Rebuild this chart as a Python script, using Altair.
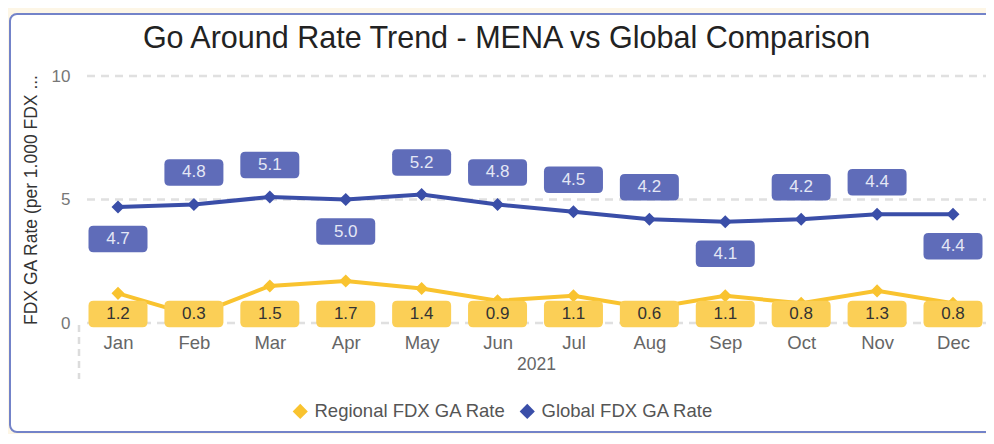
import altair as alt
import pandas as pd

months = ["Jan", "Feb", "Mar", "Apr", "May", "Jun", "Jul", "Aug", "Sep", "Oct", "Nov", "Dec"]
global_rate = [4.7, 4.8, 5.1, 5.0, 5.2, 4.8, 4.5, 4.2, 4.1, 4.2, 4.4, 4.4]
regional_rate = [1.2, 0.3, 1.5, 1.7, 1.4, 0.9, 1.1, 0.6, 1.1, 0.8, 1.3, 0.8]
global_labels_below = ["Jan", "Apr", "Sep", "Dec"]
y_ticks = [0, 5, 10]
title_text = "Go Around Rate Trend - MENA vs Global Comparison"

REG = "Regional FDX GA Rate"
GLO = "Global FDX GA Rate"

rows = []
for m, g, r in zip(months, global_rate, regional_rate):
    rows.append({"month": m, "series": REG, "value": r, "below": True})
    rows.append({"month": m, "series": GLO, "value": g, "below": m in global_labels_below})
df = pd.DataFrame(rows)

FONT = "Liberation Sans"
W, H = 905, 247

c_glo_line = "#3a4ea8"
c_reg_line = "#f9c32f"
c_glo_box = "#5f6cb9"
c_reg_box = "#fbcf56"

box_path = ("M-0.83,-0.449 L0.83,-0.449 Q1,-0.449 1,-0.279 L1,0.279 Q1,0.449 0.83,0.449 "
            "L-0.83,0.449 Q-1,0.449 -1,0.279 L-1,-0.279 Q-1,-0.449 -0.83,-0.449 Z")

x_enc = alt.X(
    "month:N", sort=months,
    scale=alt.Scale(type="point", range=[37, 872], padding=0),
    axis=alt.Axis(title="2021", labelAngle=0, ticks=False, tickSize=0, domain=False, grid=False,
                  labelFontSize=18.5, labelColor="#666666", labelPadding=10,
                  titleFontSize=17.5, titleColor="#666666", titleFontWeight="normal",
                  titlePadding=4, titleX=455, zindex=1),
)
y_scale = alt.Scale(domain=[0, 10], nice=False)
y_enc = alt.Y(
    "value:Q", scale=y_scale,
    axis=alt.Axis(title="FDX GA Rate (per 1.000 FDX ...", values=y_ticks, ticks=False, tickSize=0,
                  domain=False, grid=False, labelFontSize=17, labelColor="#777777", labelPadding=11,
                  titleFontSize=17.5, titleColor="#333333", titleFontWeight="normal",
                  titlePadding=11, zindex=1),
)
color_enc = alt.Color(
    "series:N",
    scale=alt.Scale(domain=[REG, GLO], range=[c_reg_line, c_glo_line]),
    legend=alt.Legend(title=None, orient="none", legendX=210, legendY=326, direction="horizontal",
                      symbolType="diamond", symbolSize=230, symbolStrokeWidth=0,
                      labelFontSize=18.5, labelColor="#555555", labelOffset=5, labelLimit=400,
                      columnPadding=12, zindex=1),
)

one = pd.DataFrame({"k": [0]})

frame = alt.Chart(one).mark_rect(
    fill="white", stroke="#7383c9", strokeWidth=2, cornerRadius=7
).encode(x=alt.value(-71), x2=alt.value(W + 200), y=alt.value(-62), y2=alt.value(356))

title = alt.Chart(pd.DataFrame({"t": [title_text]})).mark_text(
    fontSize=30.5, color="#222222", baseline="alphabetic", align="center"
).encode(text="t:N", x=alt.value(425.5), y=alt.value(-28))

grid = alt.Chart(pd.DataFrame({"tick": y_ticks})).mark_rule(
    color="#e0e0e0", strokeWidth=2.5, strokeDash=[8, 6]
).encode(y=alt.Y("tick:Q", scale=y_scale), x=alt.value(6), x2=alt.value(W + 10))

sep = alt.Chart(one).mark_rule(
    color="#dcdcdc", strokeWidth=2.5, strokeDash=[7, 5]
).encode(x=alt.value(-2), y=alt.value(H + 2), y2=alt.value(H + 56))

base = alt.Chart(df)

lines = base.mark_line(strokeWidth=4).encode(x=x_enc, y=y_enc, color=color_enc)
points = base.mark_point(shape="diamond", filled=True, size=170, opacity=1).encode(
    x=x_enc, y=y_enc, color=color_enc)

glo = base.transform_filter(alt.datum.series == GLO)
glo_above = glo.transform_filter(alt.datum.below == False)
glo_below = glo.transform_filter(alt.datum.below == True)
reg = base.transform_filter(alt.datum.series == REG)

def box(src, off):
    return src.mark_point(shape=box_path, filled=True, size=3481, opacity=1, color=c_glo_box,
                          strokeWidth=0, yOffset=off).encode(x=x_enc, y=y_enc)

def txt(src, off):
    return src.mark_text(fontSize=17, color="#e4e7f5", baseline="middle", yOffset=off).encode(
        x=x_enc, y=y_enc, text=alt.Text("value:Q", format=".1f"))

reg_box = reg.mark_point(shape=box_path, filled=True, size=3481, opacity=1, color=c_reg_box,
                         strokeWidth=0).encode(x=x_enc, y=alt.value(H - 9))
reg_txt = reg.mark_text(fontSize=17, color="#333333", baseline="middle").encode(
    x=x_enc, y=alt.value(H - 9), text=alt.Text("value:Q", format=".1f"))

chart = alt.layer(
    frame, title, grid, sep, lines, points,
    box(glo_above, -32), box(glo_below, 32), txt(glo_above, -32), txt(glo_below, 32),
    reg_box, reg_txt,
).properties(
    width=W, height=H,
    padding={"left": 73, "top": 68, "right": 0, "bottom": 111},
    autosize=alt.AutoSizeParams(type="none"),
).configure(font=FONT, background="#fdf6e6").configure_view(stroke=None)

chart.save("out.html", embed_options={"renderer": "svg", "actions": False})
